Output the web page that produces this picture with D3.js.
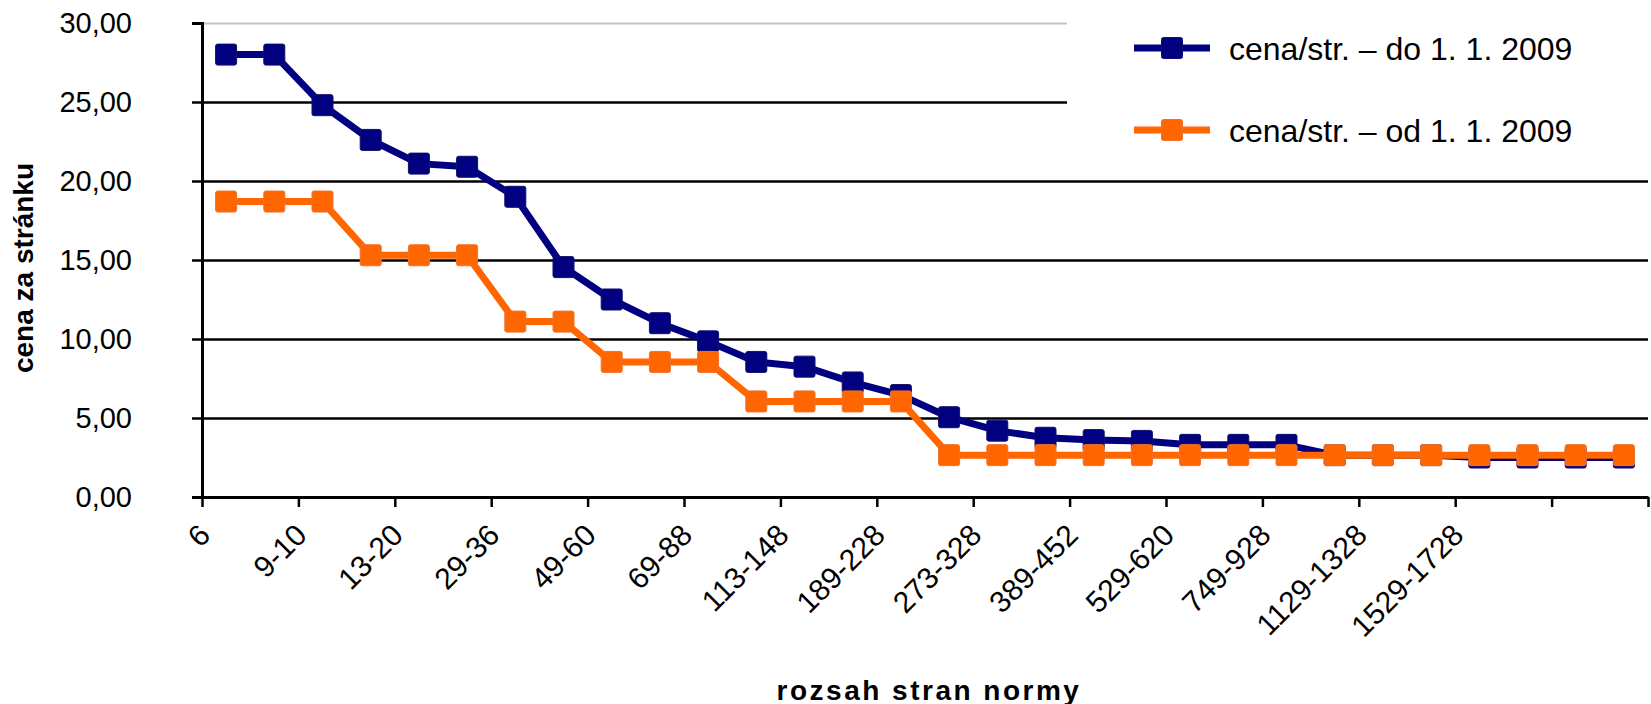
<!DOCTYPE html>
<html>
<head>
<meta charset="utf-8">
<script src="https://cdn.jsdelivr.net/npm/d3@7"></script>
<style>
  body { margin: 0; background: #fff; }
  svg { display: block; font-family: "Liberation Sans", Arial, sans-serif; }
  .axis path, .axis line { stroke: #000; }
  .grid line { stroke: #000; stroke-width: 2.5; }
  .grid path { display: none; }
</style>
</head>
<body>
<div id="chart"></div>
<script>
// categories (page ranges); only every other one gets a label on the axis
const categories = ["6", "7-8", "9-10", "11-12", "13-20", "21-28", "29-36", "37-48",
  "49-60", "61-68", "69-88", "89-112", "113-148", "149-188", "189-228", "229-272",
  "273-328", "329-388", "389-452", "453-528", "529-620", "621-748", "749-928",
  "929-1128", "1129-1328", "1329-1528", "1529-1728", "1729-1928", "", ""];

// price per page before 1. 1. 2009
const priceBefore = [28.00, 28.00, 24.80, 22.60, 21.10, 20.90, 19.00, 14.55, 12.50, 11.00,
  9.85, 8.55, 8.25, 7.25, 6.45, 5.05, 4.20, 3.75, 3.60, 3.55,
  3.30, 3.30, 3.30, 2.65, 2.65, 2.65, 2.50, 2.50, 2.50, 2.50];

// price per page from 1. 1. 2009
const priceAfter = [18.70, 18.70, 18.70, 15.30, 15.30, 15.30, 11.10, 11.10, 8.55, 8.55,
  8.55, 6.05, 6.05, 6.05, 6.05, 2.65, 2.65, 2.65, 2.65, 2.65,
  2.65, 2.65, 2.65, 2.65, 2.65, 2.65, 2.65, 2.65, 2.65, 2.65];

const yTicks = [0, 5, 10, 15, 20, 25, 30];

const series = [
  { name: "cena/str. – do 1. 1. 2009", values: priceBefore, color: "#000080", edge: "#10106a" },
  { name: "cena/str. – od 1. 1. 2009", values: priceAfter, color: "#ff6600", edge: "#f07030" }
];

const width = 1651, height = 704;
const plotLeft = 202, plotRight = 1648, plotTop = 23, plotBottom = 497;

const svg = d3.select("#chart").append("svg")
  .attr("width", width).attr("height", height)
  .attr("viewBox", `0 0 ${width} ${height}`);

// scales
const x = d3.scaleBand().domain(d3.range(categories.length)).range([plotLeft, plotRight]);
const xEdge = d3.scaleLinear([0, categories.length], [plotLeft, plotRight]);
const y = d3.scaleLinear([0, 30], [plotBottom, plotTop]);

// horizontal gridlines
const grid = svg.append("g").attr("class", "grid")
  .attr("transform", `translate(${plotLeft},0)`)
  .call(d3.axisLeft(y).tickValues(yTicks.filter(d => d > 0)).tickSize(-(plotRight - plotLeft)).tickFormat(""));
grid.selectAll(".tick").filter(d => d === 30).select("line").style("stroke", "#c4c4c4").style("stroke-width", 2);

// legend box covers the top of the gridlines
svg.append("rect").attr("x", 1067).attr("y", 0).attr("width", width - 1067).attr("height", 165).attr("fill", "#fff");

// y axis
const axisY = svg.append("g").attr("class", "axis")
  .attr("transform", `translate(${plotLeft},0)`)
  .call(d3.axisLeft(y).tickValues(yTicks).tickSize(10).tickPadding(60)
    .tickFormat(d => d3.format(".2f")(d).replace(".", ",")));
axisY.select(".domain").attr("stroke-width", 3);
axisY.selectAll(".tick line").attr("stroke-width", 2.5);
axisY.selectAll("text").attr("font-size", 29).attr("fill", "#000")
  .attr("font-family", "'Liberation Sans', Arial, sans-serif");

// x axis (ticks every two categories)
const axisX = svg.append("g").attr("class", "axis")
  .attr("transform", `translate(0,${plotBottom})`)
  .call(d3.axisBottom(xEdge).tickValues(d3.range(0, categories.length + 1, 2)).tickSize(10).tickFormat("").tickSizeOuter(0));
axisX.select(".domain").attr("stroke-width", 3);
axisX.selectAll(".tick line").attr("stroke-width", 2.5);

// category labels, rotated
svg.append("g").selectAll("text")
  .data(categories.map((c, i) => ({ c, i })).filter(d => d.i % 2 === 0))
  .join("text")
  .attr("transform", d => `translate(${x(d.i) + x.bandwidth() / 2 - 14},${plotBottom + 40}) rotate(-45)`)
  .attr("text-anchor", "end")
  .attr("font-size", 30)
  .text(d => d.c);

// lines and markers
const line = d3.line().x((d, i) => x(i) + x.bandwidth() / 2).y(d => y(d));
const ms = 21;

series.forEach(s => {
  const g = svg.append("g");
  g.append("path").datum(s.values)
    .attr("d", line).attr("fill", "none")
    .attr("stroke", s.color).attr("stroke-width", 7).attr("stroke-linejoin", "round");
  g.selectAll("rect").data(s.values).join("rect")
    .attr("x", (d, i) => x(i) + x.bandwidth() / 2 - ms / 2)
    .attr("y", d => y(d) - ms / 2)
    .attr("width", ms).attr("height", ms).attr("rx", 2)
    .attr("fill", s.color).attr("stroke", s.edge).attr("stroke-width", 1);
});

// legend
const legend = svg.append("g").selectAll("g").data(series).join("g")
  .attr("transform", (d, i) => `translate(1134,${48 + i * 82})`);
legend.append("line").attr("x1", 0).attr("x2", 76)
  .attr("stroke", d => d.color).attr("stroke-width", 7);
legend.append("rect").attr("x", 38 - ms / 2).attr("y", -ms / 2).attr("width", ms).attr("height", ms).attr("rx", 2)
  .attr("fill", d => d.color).attr("stroke", d => d.edge).attr("stroke-width", 1);
legend.append("text").attr("x", 95).attr("dy", "0.36em").attr("font-size", 32).text(d => d.name);

// axis titles
svg.append("text")
  .attr("transform", `translate(33,268) rotate(-90)`)
  .attr("text-anchor", "middle").attr("font-size", 28).attr("font-weight", "bold")
  .text("cena za stránku");

svg.append("text")
  .attr("x", 929).attr("y", 700)
  .attr("text-anchor", "middle").attr("font-size", 28).attr("font-weight", "bold")
  .attr("letter-spacing", 2.5)
  .text("rozsah stran normy");
</script>
</body>
</html>
